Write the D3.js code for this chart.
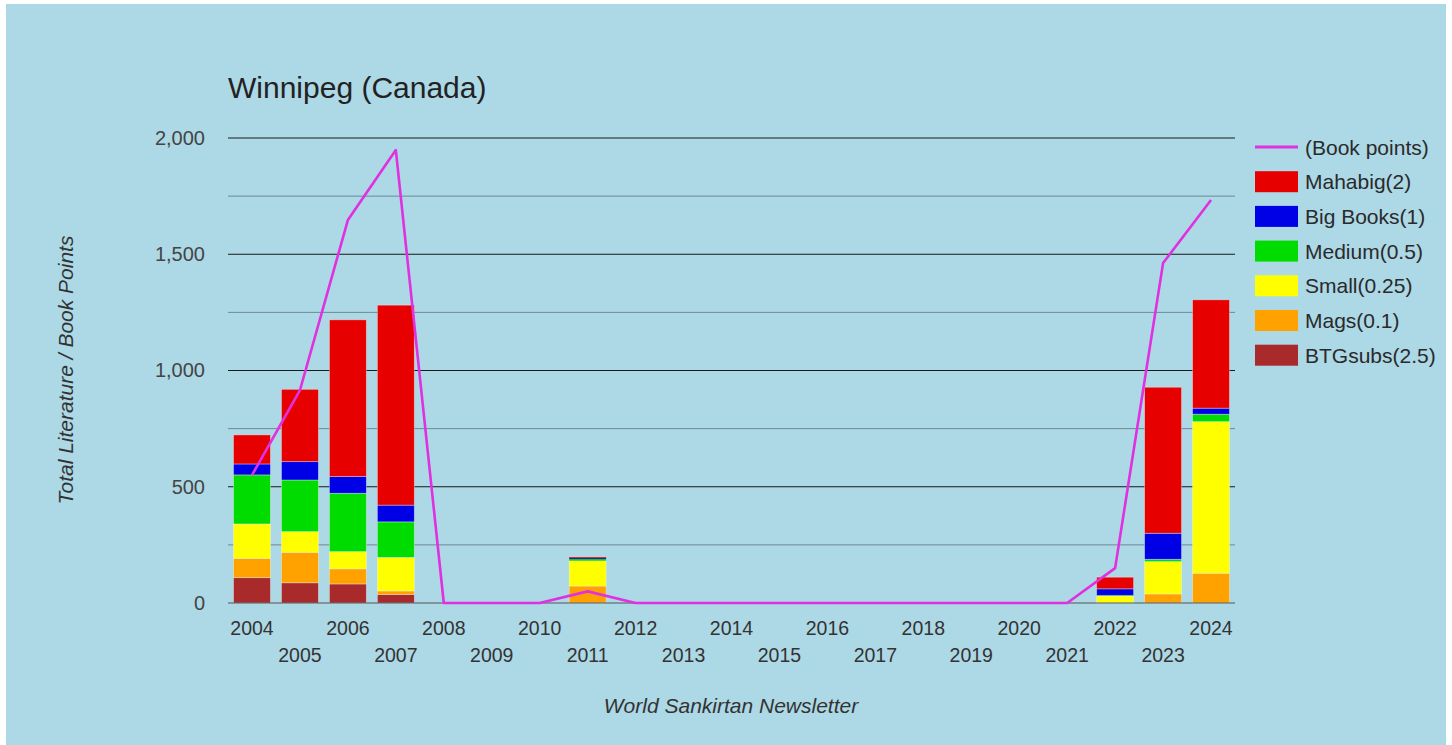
<!DOCTYPE html>
<html>
<head>
<meta charset="utf-8">
<script src="https://cdn.jsdelivr.net/npm/d3@7"></script>
<style>
  html, body { margin: 0; padding: 0; background: #ffffff; }
  svg { display: block; font-family: "Liberation Sans", Arial, sans-serif; }
</style>
</head>
<body>
<svg id="chart" width="1452" height="745"></svg>
<script>
// ---- data ----
const years = [2004, 2005, 2006, 2007, 2008, 2009, 2010, 2011, 2012, 2013, 2014,
               2015, 2016, 2017, 2018, 2019, 2020, 2021, 2022, 2023, 2024];
const btgsubs = [109, 87, 82, 37, 0, 0, 0, 0, 0, 0, 0, 0, 0, 0, 0, 0, 0, 0, 0, 0, 0];
const mags    = [83, 131, 65, 15, 0, 0, 0, 73, 0, 0, 0, 0, 0, 0, 0, 0, 0, 0, 0, 39, 128];
const small   = [148, 89, 74, 144, 0, 0, 0, 109, 0, 0, 0, 0, 0, 0, 0, 0, 0, 0, 30, 139, 652];
const medium  = [211, 222, 251, 153, 0, 0, 0, 7, 0, 0, 0, 0, 0, 0, 0, 0, 0, 0, 3, 10, 32];
const bigBooks= [47, 79, 72, 72, 0, 0, 0, 4, 0, 0, 0, 0, 0, 0, 0, 0, 0, 0, 28, 112, 26];
const mahabig = [125, 311, 674, 860, 0, 0, 0, 4, 0, 0, 0, 0, 0, 0, 0, 0, 0, 0, 50, 628, 466];
const bookPoints = [550, 915, 1647, 1948, 0, 0, 0, 50, 0, 0, 0, 0, 0, 0, 0, 0, 0, 0, 150, 1462, 1733];
const yTicks = [0, 500, 1000, 1500, 2000];
const yMinor = [250, 750, 1250, 1750];

const seriesKeys = ["btgsubs", "mags", "small", "medium", "bigBooks", "mahabig"];
const seriesData = { btgsubs, mags, small, medium, bigBooks, mahabig };
const seriesNames = { mahabig: "Mahabig(2)", bigBooks: "Big Books(1)", medium: "Medium(0.5)",
                      small: "Small(0.25)", mags: "Mags(0.1)", btgsubs: "BTGsubs(2.5)" };
const colors = { mahabig: "#e60000", bigBooks: "#0000e6", medium: "#00dc00",
                 small: "#ffff00", mags: "#ffa200", btgsubs: "#a82a2a" };
const lineColor = "#e030e0";

// ---- layout ----
const svg = d3.select("#chart");
svg.append("rect").attr("x", 6).attr("y", 4).attr("width", 1440).attr("height", 741).attr("fill", "#add8e6");

const plot = { left: 228, right: 1235, top: 138, bottom: 603 };

const x = d3.scaleBand().domain(years).range([plot.left, plot.right]).paddingInner(0.23).paddingOuter(0.115);
const y = d3.scaleLinear().domain([0, 2000]).range([plot.bottom, plot.top]);

// gridlines
const g = svg.append("g");
g.selectAll("line.minor").data(yMinor).join("line")
  .attr("x1", plot.left).attr("x2", plot.right)
  .attr("y1", d => y(d)).attr("y2", d => y(d))
  .attr("stroke", "#6f8894").attr("stroke-width", 1);
g.selectAll("line.major").data(yTicks.filter(d => d > 0)).join("line")
  .attr("x1", plot.left).attr("x2", plot.right)
  .attr("y1", d => y(d)).attr("y2", d => y(d))
  .attr("stroke", "#1a1a1a").attr("stroke-width", 1);

// stacked bars
const table = years.map((yr, i) => {
  const o = { year: yr };
  seriesKeys.forEach(k => o[k] = seriesData[k][i]);
  return o;
});
const stacked = d3.stack().keys(seriesKeys)(table);
svg.append("g").selectAll("g").data(stacked).join("g")
  .attr("fill", d => colors[d.key])
  .selectAll("rect").data(d => d.filter(s => s[1] - s[0] > 0)).join("rect")
  .attr("x", d => x(d.data.year))
  .attr("width", x.bandwidth())
  .attr("y", d => y(d[1]))
  .attr("height", d => y(d[0]) - y(d[1]))
  .attr("stroke", d => (d[1] - d[0]) < 10 ? "none" : "#f4f8fa")
  .attr("stroke-opacity", 0.45).attr("stroke-width", 0.8);

// baseline
svg.append("line").attr("x1", plot.left).attr("x2", plot.right)
  .attr("y1", y(0)).attr("y2", y(0)).attr("stroke", "#555").attr("stroke-width", 1.2);

// book points line
const line = d3.line().x((d, i) => x(years[i]) + x.bandwidth() / 2).y(d => y(d));
svg.append("path").datum(bookPoints)
  .attr("d", line).attr("fill", "none")
  .attr("stroke", lineColor).attr("stroke-width", 2.6).attr("stroke-linejoin", "round");

// y axis
const yAxis = svg.append("g").attr("transform", `translate(${plot.left},0)`)
  .call(d3.axisLeft(y).tickValues(yTicks).tickSize(0).tickPadding(23).tickFormat(d3.format(",")));
yAxis.select(".domain").remove();
yAxis.selectAll("text").attr("font-size", 20).attr("fill", "#444")
  .attr("font-family", "'Liberation Sans', Arial, sans-serif");

// x axis (two staggered rows)
const xAxis = svg.append("g").attr("transform", `translate(0,${plot.bottom})`)
  .call(d3.axisBottom(x).tickSize(0).tickPadding(0));
xAxis.select(".domain").remove();
xAxis.selectAll("text")
  .attr("font-size", 19.5).attr("fill", "#333")
  .attr("font-family", "'Liberation Sans', Arial, sans-serif")
  .attr("dy", null)
  .attr("y", (d, i) => i % 2 === 0 ? 32 : 59);

// title
svg.append("text").attr("x", 228).attr("y", 98)
  .attr("font-size", 30).attr("fill", "#222").text("Winnipeg (Canada)");

// axis titles
svg.append("text").attr("x", 731).attr("y", 713).attr("text-anchor", "middle")
  .attr("font-size", 21).attr("font-style", "italic").attr("fill", "#333")
  .text("World Sankirtan Newsletter");
svg.append("text").attr("transform", "translate(73,370) rotate(-90)").attr("text-anchor", "middle")
  .attr("font-size", 21).attr("font-style", "italic").attr("fill", "#333")
  .text("Total Literature / Book Points");

// legend
const legendItems = [{ key: "line", name: "(Book points)" }]
  .concat(seriesKeys.slice().reverse().map(k => ({ key: k, name: seriesNames[k] })));
const lg = svg.append("g");
legendItems.forEach((it, i) => {
  const cy = 147 + i * 34.7;
  if (it.key === "line") {
    lg.append("line").attr("x1", 1255).attr("x2", 1298).attr("y1", cy).attr("y2", cy)
      .attr("stroke", lineColor).attr("stroke-width", 3);
  } else {
    lg.append("rect").attr("x", 1255).attr("y", cy - 10.5).attr("width", 43).attr("height", 21)
      .attr("fill", colors[it.key]);
  }
  lg.append("text").attr("x", 1305).attr("y", cy).attr("dy", "0.36em")
    .attr("font-size", 21).attr("fill", "#2a2a2a").text(it.name);
});
</script>
</body>
</html>
